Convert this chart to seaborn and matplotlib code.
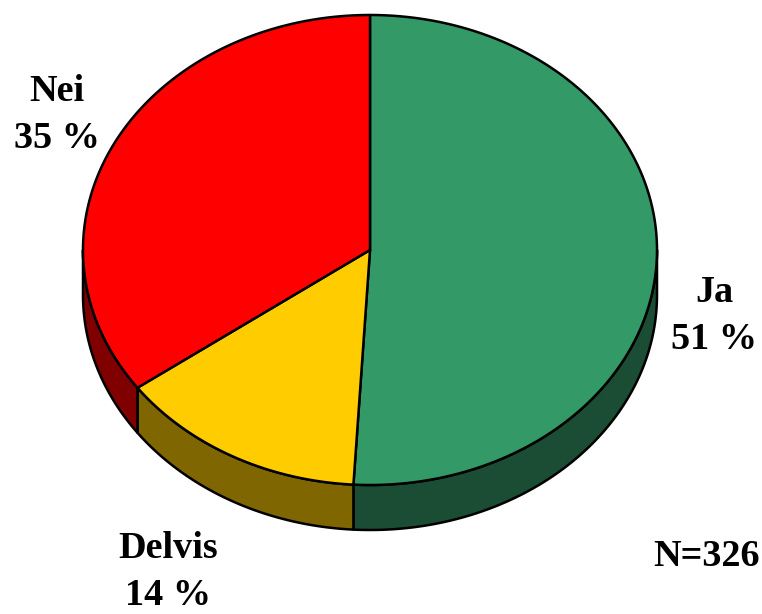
import numpy as np
import matplotlib
matplotlib.use("Agg")
import matplotlib.pyplot as plt
from matplotlib.patches import Polygon
import seaborn as sns

# ---- data ----
categories = ["Ja", "Delvis", "Nei"]
counts = [166, 46, 114]
percent_labels = ["51 %", "14 %", "35 %"]
top_colors = ["#339966", "#FFCC00", "#FF0000"]
side_colors = ["#1A4D33", "#806600", "#800000"]
n_label = "N=326"

sns.set_theme(style="white")
plt.rcParams['font.family'] = ['Liberation Serif', 'DejaVu Serif']

W, H = 762, 614
fig = plt.figure(figsize=(W / 100, H / 100), dpi=100)
ax = fig.add_axes([0, 0, 1, 1])
ax.set_xlim(0, W)
ax.set_ylim(H, 0)
ax.axis("off")

cx, cy, rx, ry, depth = 370, 250, 287, 235, 45


def pt(t):
    r = np.deg2rad(t)
    return cx + rx * np.cos(r), cy - ry * np.sin(r)


fracs = np.array(counts) / np.sum(counts)
starts = 90 - 360 * np.concatenate([[0], np.cumsum(fracs)[:-1]])
ends = starts - 360 * fracs

# side walls (front half of the cylinder)
visible = [(-180, 0), (-540, -360), (180, 360)]
for s, e, col in zip(starts, ends, side_colors):
    for lo, hi in visible:
        a, b = max(e, lo), min(s, hi)
        if b > a:
            ts = np.linspace(a, b, 200)
            top = [pt(t) for t in ts]
            bot = [(x, y + depth) for x, y in top[::-1]]
            ax.add_patch(Polygon(top + bot, closed=True, facecolor=col,
                                 edgecolor="black", lw=1.8, joinstyle="round"))

# top face
for s, e, col in zip(starts, ends, top_colors):
    ts = np.linspace(s, e, 300)
    verts = [(cx, cy)] + [pt(t) for t in ts]
    ax.add_patch(Polygon(verts, closed=True, facecolor=col,
                         edgecolor="black", lw=1.8, joinstyle="round"))

# labels
label_pos = {"Ja": (714, 316), "Delvis": (168, 572), "Nei": (57, 115)}
for cat, pl in zip(categories, percent_labels):
    x, y = label_pos[cat]
    ax.text(x, y, f"{cat}\n{pl}", ha="center", va="center", fontsize=27.5,
            fontweight="bold", linespacing=1.45, color="black")

ax.text(707, 556, n_label, ha="center", va="center", fontsize=27.5,
        fontweight="bold", color="black")

fig.savefig("out.png", dpi=100)
